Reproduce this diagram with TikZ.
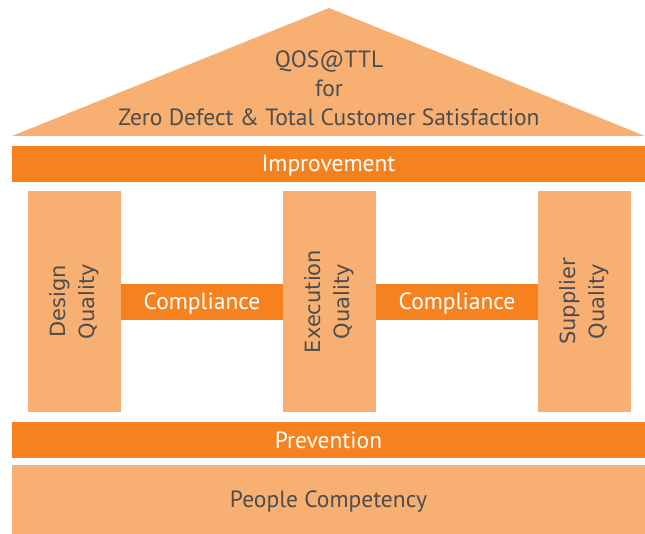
\documentclass[tikz,border=0pt]{standalone}
\usepackage{fontspec}
\setmainfont{PT Sans}
\newfontfamily\pillarfont{DejaVu Sans}
\definecolor{lightor}{HTML}{F8B072}
\definecolor{darkor}{HTML}{F5821F}
\definecolor{txtgray}{HTML}{4D4D4D}
\begin{document}
\begin{tikzpicture}[x=1pt,y=-1pt,
  box/.style={inner sep=0pt, outer sep=0pt, anchor=north west, text height=16pt, text depth=0pt},
  lightbox/.style={box, fill=lightor, text=txtgray},
  darkbox/.style={box, fill=darkor, text=white},
  maintext/.style={font=\fontsize{23.5}{29}\selectfont},
  pillartext/.style={font=\pillarfont\fontsize{21}{29}\selectfont, text=txtgray, align=center, rotate=90}
]
\useasboundingbox (0,0) rectangle (645,534);
% roof
\fill[lightor] (12,136) coordinate (rl) -- (329,8) coordinate (apex) -- (645,136) coordinate (rr) -- cycle;
\node[maintext, text=txtgray, align=center] (roof) at (329,88) {QOS@TTL\\for\\Zero Defect \& Total Customer Satisfaction};
% improvement
\node[darkbox, maintext, minimum width=633pt, minimum height=36pt] (impr) at (12,146) {Improvement};
% pillars
\node[lightbox, minimum width=93pt, minimum height=221pt] (p1) at (28,191) {};
\node[lightbox, minimum width=93pt, minimum height=221pt] (p2) at (283,191) {};
\node[lightbox, minimum width=93pt, minimum height=221pt] (p3) at (538,191) {};
\node[pillartext] (t1) at (p1.center) {Design\\Quality};
\node[pillartext] (t2) at (p2.center) {Execution\\Quality};
\node[pillartext] (t3) at (p3.center) {Supplier\\Quality};
% compliance
\node[darkbox, maintext, minimum width=162pt, minimum height=36pt] (c1) at (121,284) {Compliance};
\node[darkbox, maintext, minimum width=162pt, minimum height=36pt] (c2) at (376,284) {Compliance};
% prevention
\node[darkbox, maintext, minimum width=633pt, minimum height=36pt] (prev) at (12,422) {Prevention};
% people
\node[lightbox, maintext, minimum width=633pt, minimum height=69pt] (people) at (12,465) {People Competency};
\end{tikzpicture}
\end{document}
